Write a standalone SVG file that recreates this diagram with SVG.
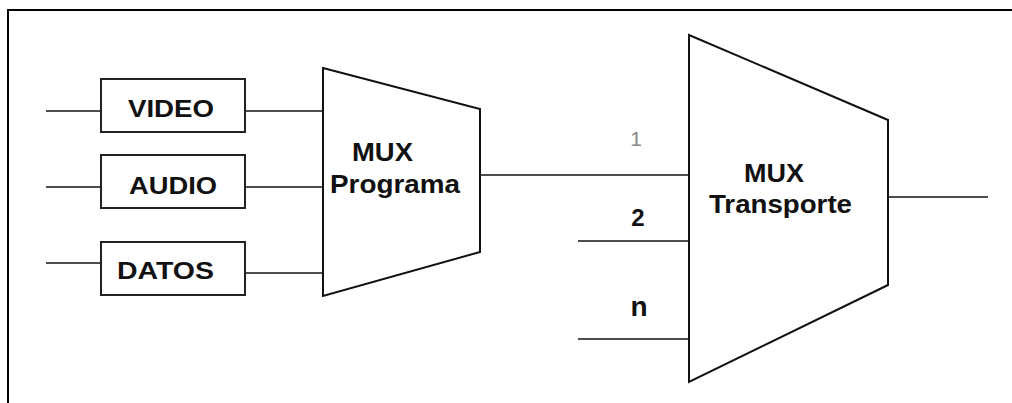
<svg xmlns="http://www.w3.org/2000/svg" width="1012" height="403" viewBox="0 0 1012 403">
<style>
.ln{stroke:#111;stroke-width:1.6;fill:none}
.box{fill:#fff;stroke:#222;stroke-width:2}
.mux{fill:#fff;stroke:#111;stroke-width:2;stroke-linejoin:miter}
.t{font-family:"Liberation Sans",Arial,sans-serif;font-weight:bold;fill:#111}
</style>
<rect x="0" y="0" width="1012" height="403" fill="#fff"/>
<g id="frame"><path d="M8,403 V10 H1012" stroke="#000" stroke-width="2" fill="none"/></g>
<g id="connectors">
<line class="ln" x1="46" y1="111" x2="101" y2="111"/>
<line class="ln" x1="46" y1="187" x2="101" y2="187"/>
<line class="ln" x1="46" y1="263" x2="101" y2="263"/>
<line class="ln" x1="245" y1="111" x2="323" y2="111"/>
<line class="ln" x1="245" y1="187" x2="323" y2="187"/>
<line class="ln" x1="245" y1="273" x2="323" y2="273"/>
<line class="ln" x1="480" y1="175" x2="689" y2="175"/>
<line class="ln" x1="578" y1="241" x2="689" y2="241"/>
<line class="ln" x1="578" y1="339" x2="689" y2="339"/>
<line class="ln" x1="888" y1="197" x2="988" y2="197"/>
</g>
<g id="video"><rect class="box" x="101" y="79" width="144" height="53"/><text class="t" x="128" y="117" font-size="24" textLength="86" lengthAdjust="spacingAndGlyphs">VIDEO</text></g>
<g id="audio"><rect class="box" x="101" y="155" width="144" height="53"/><text class="t" x="129" y="194" font-size="24" textLength="88" lengthAdjust="spacingAndGlyphs">AUDIO</text></g>
<g id="datos"><rect class="box" x="101" y="242" width="144" height="53"/><text class="t" x="117" y="279" font-size="24" textLength="97" lengthAdjust="spacingAndGlyphs">DATOS</text></g>
<g id="mux-programa"><path class="mux" d="M323,68 L480,109 L480,252 L323,296 Z"/>
<text class="t" x="352" y="161" font-size="26" textLength="61" lengthAdjust="spacingAndGlyphs">MUX</text>
<text class="t" x="330" y="193" font-size="26" textLength="130" lengthAdjust="spacingAndGlyphs">Programa</text></g>
<g id="mux-transporte"><path class="mux" d="M689,35 L888,120 L888,285 L689,382 Z"/>
<text class="t" x="744" y="182" font-size="26" textLength="60" lengthAdjust="spacingAndGlyphs">MUX</text>
<text class="t" x="709" y="213" font-size="26" textLength="143" lengthAdjust="spacingAndGlyphs">Transporte</text></g>
<g id="labels">
<text x="636" y="146" font-family="Liberation Sans,Arial,sans-serif" font-size="21" fill="#888" text-anchor="middle">1</text>
<text class="t" x="638" y="226" font-size="24" text-anchor="middle">2</text>
<text class="t" x="639" y="316" font-size="28" text-anchor="middle">n</text>
</g>
</svg>
